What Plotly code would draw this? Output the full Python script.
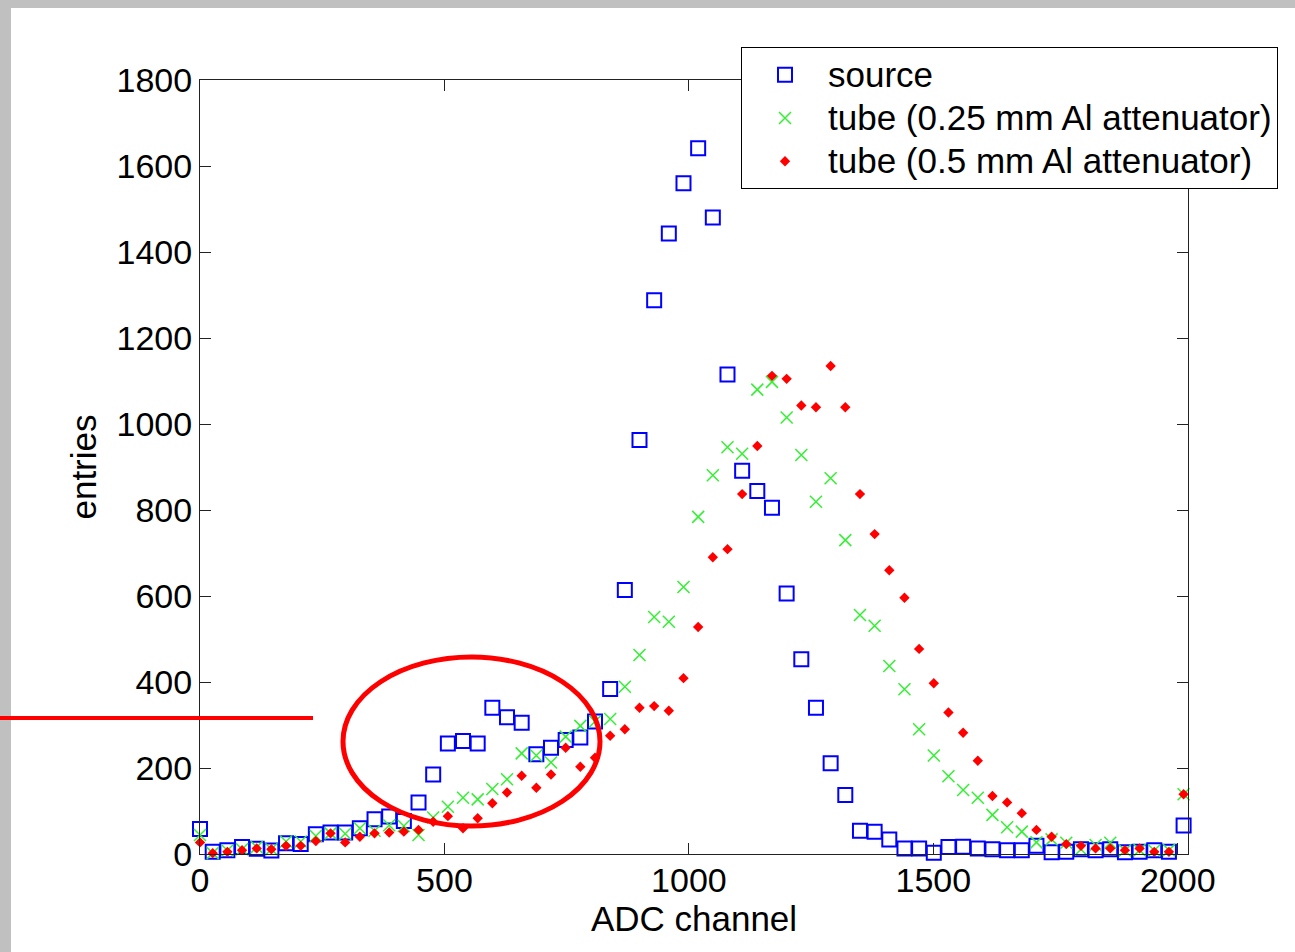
import plotly.graph_objects as go

# ADC channel of each bin
channel = [0, 26, 56, 86, 116, 146, 176, 206, 237, 267, 297, 327, 357, 387, 417, 447,
           477, 507, 538, 568, 598, 628, 658, 688, 718, 748, 778, 808, 839, 869, 899, 929,
           959, 989, 1019, 1049, 1079, 1109, 1140, 1170, 1200, 1230, 1260, 1290, 1320, 1350,
           1380, 1410, 1441, 1471, 1501, 1531, 1561, 1591, 1621, 1651, 1681, 1711, 1742, 1772,
           1802, 1832, 1862, 1892, 1922, 1952, 1982, 2012]

# entries per bin
source = [58, 5, 9, 16, 12, 8, 25, 23, 46, 50, 50, 60, 81, 87, 77, 120,
          185, 257, 263, 257, 340, 318, 305, 232, 247, 265, 271, 308, 384, 614, 963, 1288,
          1443, 1560, 1641, 1480, 1115, 891, 844, 805, 606, 453, 340, 211, 137, 54,
          52, 34, 13, 13, 3, 16, 17, 13, 11, 9, 9, 19, 4, 5,
          11, 9, 11, 4, 5, 9, 5, 66]

tube_025 = [44, 2, 8, 11, 16, 11, 29, 29, 42, 48, 47, 60, 54, 67, 65, 44,
            85, 110, 131, 127, 151, 174, 234, 229, 213, 273, 298, 308, 314, 389, 463, 551,
            540, 621, 784, 881, 946, 931, 1080, 1098, 1015, 928, 819, 874, 730, 556,
            531, 437, 383, 290, 229, 181, 149, 131, 91, 62, 52, 27, 34, 26,
            11, 21, 26, 8, 9, 8, 9, 139]

tube_05 = [27, 2, 5, 9, 13, 11, 19, 19, 30, 48, 27, 40, 48, 50, 52, 56,
           75, 88, 60, 83, 118, 143, 182, 154, 185, 247, 203, 224, 275, 290, 340, 344,
           333, 409, 528, 690, 709, 837, 949, 1112, 1105, 1043, 1039, 1135, 1039, 837,
           744, 660, 596, 477, 397, 329, 282, 217, 135, 120, 95, 56, 40, 23,
           19, 13, 13, 9, 13, 5, 5, 139]

series_names = ["source", "tube (0.25 mm Al attenuator)", "tube (0.5 mm Al attenuator)"]

W, H = 1295, 952
L, R, T, B = 200, 1188, 80, 854  # plot-area edges in pixels


def px(x, y):
    """Pixel position on the page -> paper coordinates."""
    return (x - L) / (R - L), (B - y) / (B - T)


def legend_label(text):
    # legend rows are spaced for a 31px font; the label itself is drawn at 35px
    return f'<span style="font-size:35px">{text}</span>'


FONT = "Liberation Sans, Arial, sans-serif"

fig = go.Figure()
fig.add_trace(go.Scatter(
    x=channel, y=source, mode="markers", name=legend_label(series_names[0]),
    marker=dict(symbol="square-open", size=14, color="#0000ff", line=dict(width=2, color="#0000ff")),
    cliponaxis=False))
fig.add_trace(go.Scatter(
    x=channel, y=tube_025, mode="markers", name=legend_label(series_names[1]),
    marker=dict(symbol="x-thin-open", size=12, color="#33f033", line=dict(width=1.5, color="#33f033")),
    cliponaxis=False))
fig.add_trace(go.Scatter(
    x=channel, y=tube_05, mode="markers", name=legend_label(series_names[2]),
    marker=dict(symbol="diamond", size=8, color="#ff0000"),
    cliponaxis=False))

# white page inside the grey window frame
fx0, fy1 = px(11, 8)
fx1, fy0 = px(W, H)
shapes = [dict(type="rect", xref="paper", yref="paper", x0=fx0, x1=fx1, y0=fy0, y1=fy1,
               fillcolor="white", line=dict(width=0), layer="below")]

# red highlight ellipse and marker line
ex0, ey0 = px(343, 826)
ex1, ey1 = px(600, 657)
shapes.append(dict(type="circle", xref="paper", yref="paper", x0=ex0, x1=ex1, y0=ey0, y1=ey1,
                   line=dict(color="#ff0000", width=5), layer="above"))
lx0, ly = px(0, 718)
lx1, _ = px(313, 718)
shapes.append(dict(type="line", xref="paper", yref="paper", x0=lx0, x1=lx1, y0=ly, y1=ly,
                   line=dict(color="#ff0000", width=4), layer="above"))

axis_common = dict(
    showgrid=False, zeroline=False, showline=True, linecolor="#222222", linewidth=1,
    mirror="ticks", ticks="inside", ticklen=11, tickcolor="#222222", tickwidth=1,
    tickfont=dict(family=FONT, size=34, color="black"),
)

lgx, lgy = px(741, 47)
fig.update_layout(
    width=W, height=H,
    margin=dict(l=L, r=W - R, t=T, b=H - B, pad=0),
    paper_bgcolor="#c0c0c0", plot_bgcolor="white",
    font=dict(family=FONT, size=34, color="black"),
    shapes=shapes,
    xaxis=dict(range=[0, 2021], tickvals=[0, 500, 1000, 1500, 2000],
               title=dict(text="ADC channel", font=dict(family=FONT, size=35), standoff=0),
               ticklabelstandoff=-4, **axis_common),
    yaxis=dict(range=[0, 1800], tickvals=[0, 200, 400, 600, 800, 1000, 1200, 1400, 1600, 1800],
               title=dict(text="entries", font=dict(family=FONT, size=35), standoff=9),
               ticklabelstandoff=0, **axis_common),
    legend=dict(x=lgx, y=lgy, xanchor="left", yanchor="top", bgcolor="white",
                bordercolor="black", borderwidth=1, font=dict(family=FONT, size=31),
                itemwidth=76, tracegroupgap=0),
    showlegend=True,
)

fig.write_html("out.html")
